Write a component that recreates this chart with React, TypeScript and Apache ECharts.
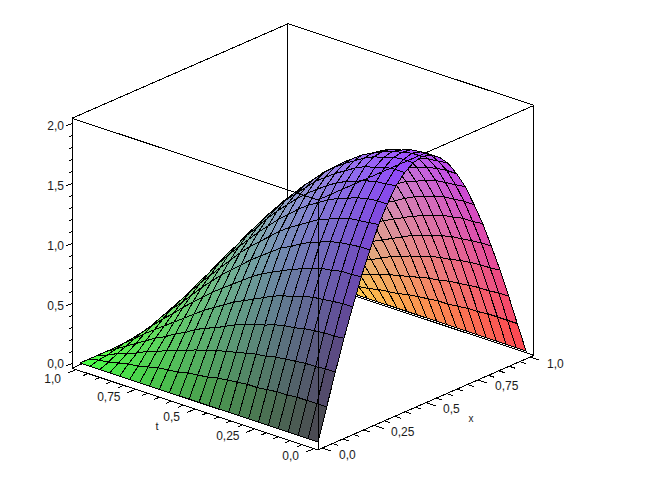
import React, { useEffect, useRef } from "react";
import * as echarts from "echarts";

const xValues = [0, 1/24, 2/24, 3/24, 4/24, 5/24, 6/24, 7/24, 8/24, 9/24, 10/24, 11/24, 12/24, 13/24, 14/24, 15/24, 16/24, 17/24, 18/24, 19/24, 20/24, 21/24, 22/24, 23/24, 1];
const tValues = xValues;

// height read for each t row (first row t = 0, last row t = 1), across x = 0..1
const zGrid = [
  [0,.26,.52,.77,1.00,1.22,1.41,1.59,1.73,1.85,1.93,1.98,2.00,1.98,1.93,1.85,1.73,1.59,1.41,1.22,1.00,.77,.52,.26,0],
  [0,.26,.52,.76,1.00,1.21,1.41,1.58,1.73,1.84,1.93,1.98,2.00,1.98,1.93,1.84,1.73,1.58,1.41,1.21,1.00,.76,.52,.26,0],
  [0,.26,.51,.76,.99,1.21,1.40,1.57,1.72,1.83,1.92,1.97,1.98,1.97,1.92,1.83,1.72,1.57,1.40,1.21,.99,.76,.51,.26,0],
  [0,.26,.51,.75,.98,1.19,1.39,1.56,1.70,1.81,1.89,1.94,1.96,1.94,1.89,1.81,1.70,1.56,1.39,1.19,.98,.75,.51,.26,0],
  [0,.25,.50,.74,.97,1.18,1.37,1.53,1.67,1.78,1.87,1.92,1.93,1.92,1.87,1.78,1.67,1.53,1.37,1.18,.97,.74,.50,.25,0],
  [0,.25,.49,.72,.95,1.15,1.34,1.50,1.64,1.75,1.83,1.88,1.89,1.88,1.83,1.75,1.64,1.50,1.34,1.15,.95,.72,.49,.25,0],
  [0,.24,.48,.71,.92,1.12,1.31,1.47,1.60,1.71,1.78,1.83,1.85,1.83,1.78,1.71,1.60,1.47,1.31,1.12,.92,.71,.48,.24,0],
  [0,.23,.46,.69,.90,1.09,1.27,1.42,1.55,1.66,1.73,1.78,1.79,1.78,1.73,1.66,1.55,1.42,1.27,1.09,.90,.69,.46,.23,0],
  [0,.23,.45,.66,.87,1.05,1.22,1.37,1.50,1.60,1.67,1.72,1.73,1.72,1.67,1.60,1.50,1.37,1.22,1.05,.87,.66,.45,.23,0],
  [0,.22,.43,.64,.83,1.01,1.18,1.32,1.44,1.54,1.61,1.65,1.66,1.65,1.61,1.54,1.44,1.32,1.18,1.01,.83,.64,.43,.22,0],
  [0,.21,.41,.61,.79,.97,1.12,1.26,1.37,1.47,1.53,1.57,1.59,1.57,1.53,1.47,1.37,1.26,1.12,.97,.79,.61,.41,.21,0],
  [0,.20,.39,.58,.75,.92,1.06,1.19,1.30,1.39,1.45,1.49,1.50,1.49,1.45,1.39,1.30,1.19,1.06,.92,.75,.58,.39,.20,0],
  [0,.18,.37,.54,.71,.86,1.00,1.12,1.22,1.31,1.37,1.40,1.41,1.40,1.37,1.31,1.22,1.12,1.00,.86,.71,.54,.37,.18,0],
  [0,.17,.34,.50,.66,.80,.93,1.05,1.14,1.22,1.27,1.31,1.32,1.31,1.27,1.22,1.14,1.05,.93,.80,.66,.50,.34,.17,0],
  [0,.16,.32,.47,.61,.74,.86,.97,1.05,1.12,1.18,1.21,1.22,1.21,1.18,1.12,1.05,.97,.86,.74,.61,.47,.32,.16,0],
  [0,.14,.29,.43,.56,.68,.79,.88,.96,1.03,1.07,1.10,1.11,1.10,1.07,1.03,.96,.88,.79,.68,.56,.43,.29,.14,0],
  [0,.13,.26,.38,.50,.61,.71,.79,.87,.92,.97,.99,1.00,.99,.97,.92,.87,.79,.71,.61,.50,.38,.26,.13,0],
  [0,.12,.23,.34,.44,.54,.63,.70,.77,.82,.85,.88,.88,.88,.85,.82,.77,.70,.63,.54,.44,.34,.23,.12,0],
  [0,.10,.20,.29,.38,.47,.54,.61,.66,.71,.74,.76,.77,.76,.74,.71,.66,.61,.54,.47,.38,.29,.20,.10,0],
  [0,.08,.17,.25,.32,.39,.45,.51,.56,.59,.62,.64,.64,.64,.62,.59,.56,.51,.45,.39,.32,.25,.17,.08,0],
  [0,.07,.13,.20,.26,.32,.37,.41,.45,.48,.50,.51,.52,.51,.50,.48,.45,.41,.37,.32,.26,.20,.13,.07,0],
  [0,.05,.10,.15,.20,.24,.28,.31,.34,.36,.38,.39,.39,.39,.38,.36,.34,.31,.28,.24,.20,.15,.10,.05,0],
  [0,.03,.07,.10,.13,.16,.18,.21,.23,.24,.25,.26,.26,.26,.25,.24,.23,.21,.18,.16,.13,.10,.07,.03,0],
  [0,.02,.03,.05,.07,.08,.09,.10,.11,.12,.13,.13,.13,.13,.13,.12,.11,.10,.09,.08,.07,.05,.03,.02,0],
  [0,0,0,0,0,0,0,0,0,0,0,0,0,0,0,0,0,0,0,0,0,0,0,0,0],
];

const xTickLabels = [["0,0", 0], ["0,25", 0.25], ["0,5", 0.5], ["0,75", 0.75], ["1,0", 1]];
const tTickLabels = [["0,0", 0], ["0,25", 0.25], ["0,5", 0.5], ["0,75", 0.75], ["1,0", 1]];
const zTickLabels = [["0,0", 0], ["0,5", 0.5], ["1,0", 1], ["1,5", 1.5], ["2,0", 2]];
const xMinorTicks = [0, .05, .1, .15, .2, .25, .3, .35, .4, .45, .5, .55, .6, .65, .7, .75, .8, .85, .9, .95, 1];
const tMinorTicks = xMinorTicks;
const zMinorTicks = [0, .1, .2, .3, .4, .5, .6, .7, .8, .9, 1, 1.1, 1.2, 1.3, 1.4, 1.5, 1.6, 1.7, 1.8, 1.9, 2];

// view box bounds
const X0 = -0.0192, X1 = 1.0192, T0 = -0.0168, T1 = 1.0168, Z0 = -0.04, Z1 = 2.043;

// oblique view: data (x, t, z) -> page pixels
const project = (x: number, t: number, z: number): number[] => [
  318 + 208 * x - 238 * t,
  442 - 91 * x - 79 * t - 120 * z,
];

const rgbFor = (x: number, t: number, z: number) => {
  const c = (v: number) => Math.round(255 * Math.min(1, 0.28 + 0.72 * v));
  return `rgb(${c(x)},${c(t)},${c(z / 2)})`;
};

type Seg = [number, number, number, number, number, number];
const backEdges: Seg[] = [
  [X1, T1, Z0, X1, T1, Z1],
  [X0, T1, Z1, X1, T1, Z1],
  [X1, T0, Z1, X1, T1, Z1],
  [X0, T1, Z0, X1, T1, Z0],
  [X1, T0, Z0, X1, T1, Z0],
];
const frontEdges: Seg[] = [
  [X0, T0, Z0, X0, T0, Z1],
  [X1, T0, Z0, X1, T0, Z1],
  [X0, T1, Z0, X0, T1, Z1],
  [X0, T0, Z1, X1, T0, Z1],
  [X0, T0, Z1, X0, T1, Z1],
  [X0, T0, Z0, X1, T0, Z0],
  [X0, T0, Z0, X0, T1, Z0],
];
const isMajor = (v: number, labels: (string | number)[][]) => labels.some((l) => Math.abs((l[1] as number) - v) < 1e-6);
const tickSegs: Seg[] = [
  ...xMinorTicks.map((v): Seg => [v, T0, Z0, v, T0 - (isMajor(v, xTickLabels) ? 0.04 : 0.025), Z0]),
  ...tMinorTicks.map((v): Seg => [X0, v, Z0, X0 - (isMajor(v, tTickLabels) ? 0.04 : 0.025), v, Z0]),
  ...zMinorTicks.map((v): Seg => [X0, T1, v, X0 - (isMajor(v, zTickLabels) ? 0.028 : 0.016), T1, v]),
];

const cells: number[][] = [];
for (let j = tValues.length - 2; j >= 0; j--) {
  for (let i = xValues.length - 2; i >= 0; i--) cells.push([i, j]);
}

const FONT = "Liberation Sans";

export default function App() {
  const ref = useRef<HTMLDivElement>(null);
  useEffect(() => {
    document.body.style.margin = "0";
    const chart = echarts.init(ref.current!, null, { renderer: "svg" });

    const segSeries = (name: string, segs: Seg[], z: number) => ({
      type: "custom",
      name,
      coordinateSystem: "cartesian2d",
      z,
      silent: true,
      clip: false,
      data: segs,
      renderItem: (_: any, api: any) => {
        const s = [0, 1, 2, 3, 4, 5].map((k) => api.value(k));
        const [ax, ay] = api.coord(project(s[0], s[1], s[2]));
        const [bx, by] = api.coord(project(s[3], s[4], s[5]));
        return {
          type: "line",
          shape: { x1: ax, y1: ay, x2: bx, y2: by },
          style: { stroke: "#000", lineWidth: 1, fill: "none" },
        };
      },
    });

    const textItems: any[] = [
      ...xTickLabels.map((l) => [l[0], project(l[1] as number, 0, 0), 21, 12.5, "left", 12]),
      ...tTickLabels.map((l) => [l[0], project(0, l[1] as number, 0), -19, l[1] === 1 ? 15.5 : 14, "right", 12]),
      ...zTickLabels.map((l) => [l[0], project(X0, T1, l[1] as number), -8, l[1] === 0 ? 1 : 3, "right", 12]),
      ["x", project(0.5, 0, 0), 49, 21.5, "center", 10],
      ["t", project(0, 0.5, 0), -42, 23.5, "center", 11],
    ];

    chart.setOption({
      animation: false,
      backgroundColor: "#fff",
      grid: { left: 0, top: 0, right: 0, bottom: 0 },
      xAxis: { type: "value", min: 0, max: 647, show: false },
      yAxis: { type: "value", min: 0, max: 493, inverse: true, show: false },
      tooltip: { show: false },
      series: [
        segSeries("frame-back", backEdges, 1),
        {
          type: "custom",
          name: "surface",
          coordinateSystem: "cartesian2d",
          z: 2,
          silent: true,
          clip: false,
          data: cells,
          renderItem: (_: any, api: any) => {
            const i = api.value(0), j = api.value(1);
            const corners = [[i, j], [i + 1, j], [i + 1, j + 1], [i, j + 1]];
            let sx = 0, st = 0, sz = 0;
            const points = corners.map(([a, b]) => {
              const x = xValues[a], t = tValues[b], z = zGrid[b][a];
              sx += x; st += t; sz += z;
              return api.coord(project(x, t, z));
            });
            return {
              type: "polygon",
              shape: { points },
              style: { fill: rgbFor(sx / 4, st / 4, sz / 4), stroke: "#000", lineWidth: 1 },
            };
          },
        },
        segSeries("frame-front", frontEdges, 3),
        segSeries("ticks", tickSegs, 3),
        {
          type: "custom",
          name: "labels",
          coordinateSystem: "cartesian2d",
          z: 4,
          silent: true,
          clip: false,
          data: textItems.map((_, k) => [k]),
          renderItem: (_: any, api: any) => {
            const it = textItems[api.value(0)];
            const [px, py] = api.coord(it[1]);
            return {
              type: "text",
              style: {
                text: it[0],
                x: px + it[2],
                y: py + it[3],
                fill: "#1a1a1a",
                font: `${it[5]}px "${FONT}", Arial, sans-serif`,
                align: it[4],
                verticalAlign: "middle",
              },
            };
          },
        },
      ],
    });
    const svg = ref.current!.querySelector("svg");
    if (svg) (svg as any).style.shapeRendering = "crispEdges";
    return () => chart.dispose();
  }, []);
  return <div ref={ref} style={{ position: "absolute", left: 0, top: 0, width: 647, height: 493 }} />;
}
